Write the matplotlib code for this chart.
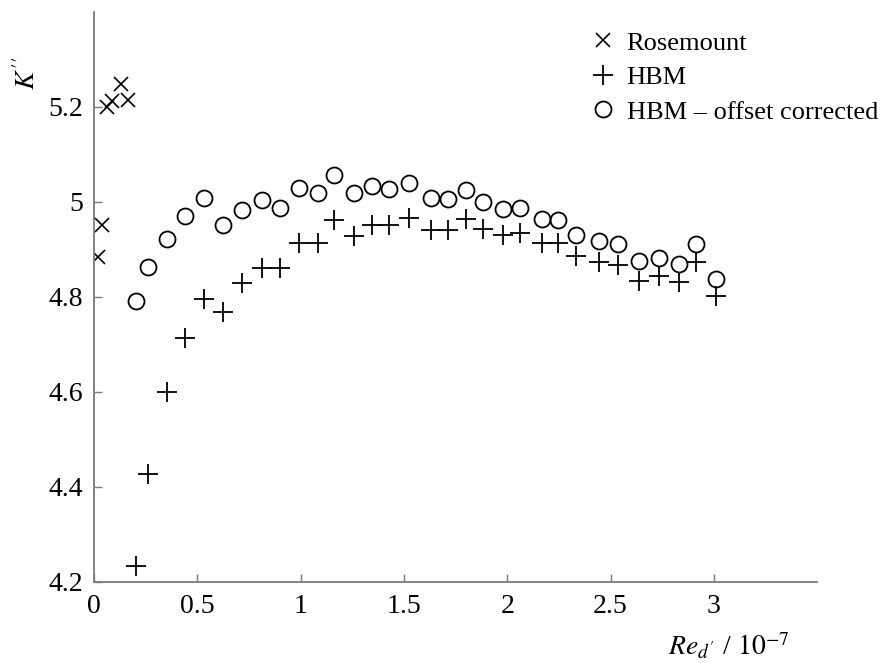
import matplotlib
matplotlib.use("Agg")
import matplotlib.pyplot as plt

# Reynolds number (scaled by 1e-7) and discharge coefficient K''
re_rosemount = [0.020, 0.037, 0.065, 0.089, 0.129, 0.163]
k_rosemount = [4.885, 4.952, 5.199, 5.213, 5.249, 5.214]

re_hbm = [0.203, 0.263, 0.352, 0.441, 0.533, 0.623, 0.718, 0.815, 0.901, 0.993,
          1.086, 1.162, 1.256, 1.345, 1.429, 1.525, 1.630, 1.711, 1.801, 1.882,
          1.979, 2.063, 2.168, 2.245, 2.334, 2.442, 2.536, 2.636, 2.736, 2.830,
          2.915, 3.011]
k_hbm = [4.234, 4.428, 4.600, 4.714, 4.796, 4.768, 4.829, 4.862, 4.862, 4.914,
         4.914, 4.962, 4.929, 4.951, 4.951, 4.967, 4.942, 4.942, 4.964, 4.943,
         4.930, 4.934, 4.913, 4.914, 4.886, 4.873, 4.868, 4.834, 4.845, 4.831,
         4.874, 4.801]
k_hbm_corr = [4.792, 4.864, 4.921, 4.971, 5.009, 4.951, 4.984, 5.004, 4.987, 5.029,
              5.018, 5.056, 5.018, 5.033, 5.028, 5.040, 5.009, 5.006, 5.025, 5.000,
              4.985, 4.987, 4.964, 4.963, 4.931, 4.918, 4.911, 4.875, 4.883, 4.869,
              4.911, 4.837]

x_ticks = [0, 0.5, 1, 1.5, 2, 2.5, 3]
x_ticklabels = ["0", "0.5", "1", "1.5", "2", "2.5", "3"]
y_ticks = [4.2, 4.4, 4.6, 4.8, 5.0, 5.2]
y_ticklabels = ["4.2", "4.4", "4.6", "4.8", "5", "5.2"]

plt.rcParams["font.family"] = ["Liberation Serif", "DejaVu Serif"]
plt.rcParams["mathtext.fontset"] = "stix"

SPINE = "#7a7a7a"

fig = plt.figure(figsize=(8.93, 6.63), dpi=100, facecolor="white")
ax = fig.add_axes([0.1053, 0.1222, 0.8097, 0.8598])

ax.plot(re_rosemount, k_rosemount, linestyle="none", marker="x", markersize=10,
        markeredgewidth=1.2, color="black", label="Rosemount")
ax.plot(re_hbm, k_hbm, linestyle="none", marker="+", markersize=15,
        markeredgewidth=1.3, color="black", label="HBM")
ax.plot(re_hbm, k_hbm_corr, linestyle="none", marker="o", markersize=11.5,
        markeredgewidth=1.3, markerfacecolor="none", color="black",
        label="HBM \u2013 offset corrected")

ax.set_xlim(0, 3.5)
ax.set_ylim(4.2, 5.4)
ax.set_xticks(x_ticks)
ax.set_xticklabels(x_ticklabels)
ax.set_yticks(y_ticks)
ax.set_yticklabels(y_ticklabels)

for side in ("top", "right"):
    ax.spines[side].set_visible(False)
for side in ("left", "bottom"):
    ax.spines[side].set_color(SPINE)
    ax.spines[side].set_linewidth(1.3)
ax.tick_params(direction="in", length=6, width=1.0, color=SPINE,
               labelsize=20, labelcolor="black")
ax.tick_params(axis="x", pad=9)
ax.tick_params(axis="y", pad=8)

ax.legend(loc="upper left", bbox_to_anchor=(0.6486, 0.969),
          bbox_transform=fig.transFigure, frameon=False, fontsize=19,
          handlelength=1.0, handletextpad=0.4, labelspacing=0.42,
          borderaxespad=0)

fig.text(0.031, 0.89, r"$K''$", rotation=90, fontsize=20,
         ha="center", va="center")
fig.text(0.816, 0.025, r"$Re_{d'}$ / $10^{-7}$", fontsize=20,
         ha="center", va="center")

fig.savefig("out.png", dpi=100, facecolor="white")
